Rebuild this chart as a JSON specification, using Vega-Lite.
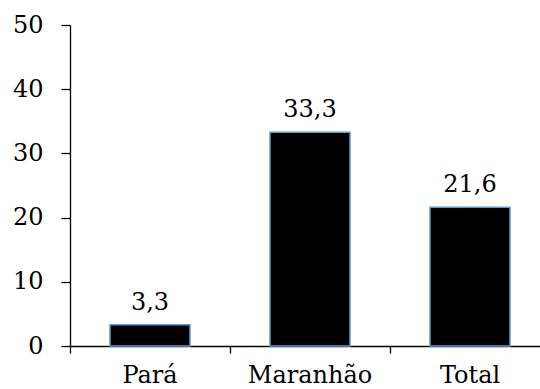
{
  "$schema": "https://vega.github.io/schema/vega-lite/v6.json",
  "autosize": {"type": "none"},
  "width": 480,
  "height": 321,
  "padding": {"left": 70, "top": 25, "right": 0, "bottom": 43},
  "background": "white",
  "config": {"view": {"stroke": null}, "font": "DejaVu Serif"},
  "data": {"values": [
    {"regiao": "Pará", "valor": 3.3, "rotulo": "3,3"},
    {"regiao": "Maranhão", "valor": 33.3, "rotulo": "33,3"},
    {"regiao": "Total", "valor": 21.6, "rotulo": "21,6"}
  ]},
  "encoding": {
    "x": {"field": "regiao", "type": "nominal", "sort": null,
      "scale": {"paddingInner": 0, "paddingOuter": 0},
      "axis": {"title": null, "labelAngle": 0, "bandPosition": 0, "domainColor": "black", "domainWidth": 1.3,
        "tickColor": "black", "tickSize": 7, "tickWidth": 1.3, "labelFont": "DejaVu Serif", "labelFontSize": 24,
        "labelColor": "black", "labelPadding": 10, "grid": false}},
    "y": {"field": "valor", "type": "quantitative",
      "scale": {"domain": [0, 50], "nice": false},
      "axis": {"title": null, "values": [0, 10, 20, 30, 40, 50], "grid": false, "domainColor": "black", "domainWidth": 1.3,
        "tickColor": "black", "tickSize": 9, "tickWidth": 1.3, "labelFont": "DejaVu Serif", "labelFontSize": 24,
        "labelColor": "black", "labelPadding": 18}}
  },
  "layer": [
    {"mark": {"type": "bar", "color": "black", "stroke": "#5b9bd5", "strokeWidth": 1.5, "width": {"band": 0.5}}},
    {"mark": {"type": "text", "font": "DejaVu Serif", "fontSize": 24, "color": "black", "baseline": "alphabetic", "dy": -15},
      "encoding": {"text": {"field": "rotulo"}}}
  ]
}
